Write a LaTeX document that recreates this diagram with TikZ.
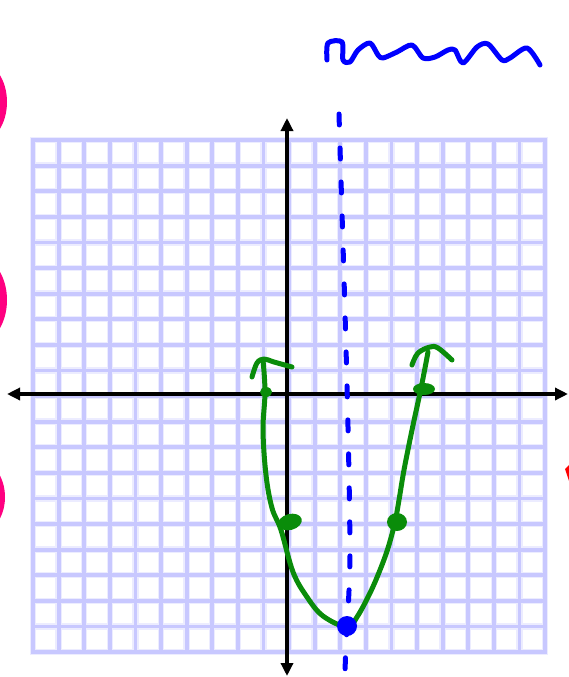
\documentclass[tikz,border=0pt]{standalone}
\usepackage{xcolor}
\usetikzlibrary{arrows.meta}
\definecolor{gridlav}{RGB}{200,200,255}
\definecolor{gridpale}{RGB}{236,236,255}
\definecolor{pengreen}{RGB}{10,140,10}
\definecolor{penblue}{RGB}{0,0,255}
\definecolor{binderpink}{RGB}{255,0,128}
\definecolor{penred}{RGB}{255,0,0}
\tikzset{
  haloline/.style={gridpale, line width=6.5pt, line cap=rect},
  gridline/.style={gridlav, line width=3.8pt, line cap=rect},
  axis/.style={{Triangle[length=13pt,width=12pt]}-{Triangle[length=13pt,width=12pt]}, line width=3.5pt, black},
  greenpen/.style={pengreen, line width=5pt, line cap=round, line join=round},
  bluepen/.style={penblue, line width=5pt, line cap=round, line join=round},
  axisdash/.style={bluepen, dash pattern=on 11pt off 23pt}
}

\begin{document}
\begin{tikzpicture}[x=1pt,y=-1pt]
        \useasboundingbox (0,0) rectangle (569,677);
        % binder holes
        \fill[binderpink] (-22,102) ellipse [x radius=29pt, y radius=41pt];
        \fill[binderpink] (-22,300) ellipse [x radius=29pt, y radius=43pt];
        \fill[binderpink] (-24,497) ellipse [x radius=29pt, y radius=38pt];
        \fill[binderpink] (-24,708) ellipse [x radius=28pt, y radius=45pt];
        % graph paper
        \foreach \i in {0,...,20}{
          \draw[haloline] ({33+25.6*\i},140) -- ({33+25.6*\i},652);
          \draw[haloline] (33,{140+25.6*\i}) -- (545,{140+25.6*\i});
        }
        \foreach \i in {0,...,20}{
          \draw[gridline] ({33+25.6*\i},140) -- ({33+25.6*\i},652);
          \draw[gridline] (33,{140+25.6*\i}) -- (545,{140+25.6*\i});
        }
        % axes
        \coordinate (xL) at (7,394);
        \coordinate (xR) at (568,394);
        \coordinate (yT) at (287,118);
        \coordinate (yB) at (287,676);
        \draw[axis] (xL) -- (xR);
        \draw[axis] (yB) -- (yT);
        % axis of symmetry
        \coordinate (symT) at (339,114);
        \coordinate (symB) at (345,680);
        \draw[axisdash] (symT) .. controls (343,250) and (349,420) .. (350,550)
          .. controls (350,600) and (345,640) .. (symB);
        % parabola
        \draw[greenpen] plot[smooth, tension=0.6] coordinates {(263,360) (265,392) (263,430) (266,475) (272,508) (281,530) (293,572) (307,597) (323,616) (347,627) (357,617) (370,593) (380,570) (388,548) (395,522) (399,500) (404,470) (412,430) (420,393) (425,368) (428,352)};
        \draw[greenpen] plot[smooth, tension=0.6] coordinates {(252,377) (257,363) (264,359) (274,362) (292,367)};
        \draw[greenpen] plot[smooth, tension=0.6] coordinates {(412,365) (418,353) (430,347) (438,348) (452,360)};
        % plotted points
        \fill[pengreen] (266,392) ellipse [x radius=6pt, y radius=5pt];
        \fill[pengreen] (424,389) ellipse [x radius=11pt, y radius=6pt];
        \fill[pengreen, rotate around={15:(290,522)}] (290,522) ellipse [x radius=12pt, y radius=8pt];
        \fill[pengreen] (397,522) ellipse [x radius=10pt, y radius=9pt];
        \fill[penblue] (347,626) circle [radius=10pt];
        % scribble
        \draw[bluepen] plot[smooth, tension=0.5] coordinates {(327,60) (328,43) (342,42) (343,60) (350,62) (358,50) (370,43) (378,55) (383,58) (397,52) (412,45) (423,58) (435,57) (448,50) (455,50) (463,63) (477,47) (488,44) (502,60) (510,58) (527,48) (540,65)};
        % margin mark
        \fill[penred] (565,469) -- (569,465) -- (569,481) -- cycle;
      \end{tikzpicture}
\end{document}
